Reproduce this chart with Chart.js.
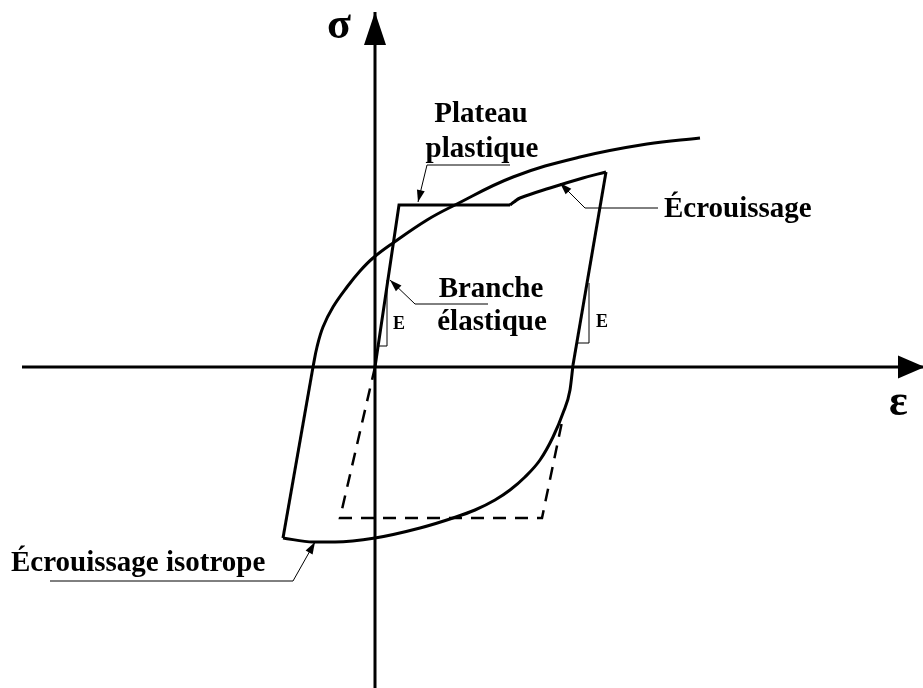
<!DOCTYPE html>
<html>
<head>
<meta charset="utf-8">
<script src="https://cdn.jsdelivr.net/npm/chart.js@4.4.1/dist/chart.umd.min.js"></script>
<style>
html,body{margin:0;padding:0;background:#fff;}
#c{display:block;}
</style>
</head>
<body>
<canvas id="c" width="923" height="688"></canvas>
<script>
// ---- Data (strain ε on x, stress σ on y; schematic units) ----
const axisX = [[-353, 0], [550, 0]];
const axisY = [[0, -321], [0, 355]];

// monotonic (isotropic) envelope: straight part + curved part
const isoLine  = [[-92, -171], [-62, 0]];
const isoCurve = [[-62, 0], [-58, 20], [-52, 40], [-42, 60], [-28, 80], [-15, 96], [-2, 109],
                  [18, 124], [52, 147], [78, 161], [138, 190], [205, 210], [272, 223], [325, 229]];

// cyclic path: elastic branch + plastic plateau
const elasticPlateau = [[0, 0], [24, 162], [135, 162]];
// strain hardening
const hardening = [[135, 162], [139, 165], [145, 169], [175, 179], [208, 189], [231, 195]];
// elastic unloading
const unloading = [[231, 195], [198, 2]];
// reverse curve (isotropic hardening in compression)
const reverseCurve = [[198, 2], [195, -23], [188, -46], [178, -70], [165, -93], [150, -110],
                      [135, -123], [120, -133], [100, -143], [78, -151], [45, -161], [0, -171],
                      [-40, -175], [-62, -175], [-92, -171]];

// dashed perfectly-plastic reference loop
const dashedLoop = [[0, 0], [-35, -151], [167, -151], [188, -50]];

// slope triangles (E)
const slopeLeft  = [[3, 21], [12, 21], [12, 87]];
const slopeRight = [[202, 24], [214, 24], [214, 84]];

// leader lines (end on the arrow tip)
const leaderPlateau  = [[135, 202], [52, 202], [43, 165]];
const leaderHarden   = [[283, 159], [210, 159], [185, 184]];
const leaderElastic  = [[113, 63], [40, 63], [15, 87]];
const leaderIso      = [[-325, -214], [-82, -214], [-60, -175]];

// text labels
const labels = [
  {text: 'Plateau',   x: 106, y: 245, align: 'center', size: 29},
  {text: 'plastique', x: 107, y: 210, align: 'center', size: 29},
  {text: 'Écrouissage', x: 289, y: 150, align: 'left', size: 29},
  {text: 'Branche',   x: 116, y: 70, align: 'center', size: 29},
  {text: 'élastique', x: 117, y: 37, align: 'center', size: 29},
  {text: 'Écrouissage isotrope', x: -364, y: -204, align: 'left', size: 29},
  {text: 'E', x: 18, y: 38, align: 'left', size: 18},
  {text: 'E', x: 221, y: 40, align: 'left', size: 18},
  {text: 'σ', x: -48, y: 329, align: 'left', size: 44},
  {text: 'ε', x: 514, y: -48, align: 'left', size: 44}
];

const pts = a => a.map(p => ({x: p[0], y: p[1]}));

function ds(arr, opts) {
  return Object.assign({
    data: pts(arr), showLine: true, borderColor: '#000', backgroundColor: '#000',
    borderWidth: 3, pointRadius: 0, pointHoverRadius: 0, tension: 0, fill: false,
    borderJoinStyle: 'miter', borderCapStyle: 'butt', clip: false
  }, opts || {});
}

const datasets = [
  ds(axisX, {borderWidth: 3, arrow: {len: 27, width: 23}}),
  ds(axisY, {borderWidth: 3, arrow: {len: 33, width: 22}}),
  ds(isoLine, {borderWidth: 3}),
  ds(isoCurve, {borderWidth: 3, tension: 0.4}),
  ds(elasticPlateau, {borderWidth: 3}),
  ds(hardening, {borderWidth: 3, tension: 0.4}),
  ds(unloading, {borderWidth: 3}),
  ds(reverseCurve, {borderWidth: 3, cubicInterpolationMode: 'monotone'}),
  ds(dashedLoop, {borderWidth: 2.5, borderDash: [13, 9]}),
  ds(slopeLeft, {borderWidth: 1}),
  ds(slopeRight, {borderWidth: 1}),
  ds(leaderPlateau, {borderWidth: 1, arrow: {len: 12, width: 8}}),
  ds(leaderHarden, {borderWidth: 1, arrow: {len: 12, width: 8}}),
  ds(leaderElastic, {borderWidth: 1, arrow: {len: 12, width: 8}}),
  ds(leaderIso, {borderWidth: 1, arrow: {len: 12, width: 8}})
];

const arrowPlugin = {
  id: 'arrowheads',
  afterDatasetsDraw(chart) {
    const ctx = chart.ctx;
    chart.data.datasets.forEach((d, i) => {
      if (!d.arrow) return;
      const meta = chart.getDatasetMeta(i);
      const n = meta.data.length;
      const a = meta.data[n - 2], b = meta.data[n - 1];
      const ang = Math.atan2(b.y - a.y, b.x - a.x);
      const L = d.arrow.len, W = d.arrow.width / 2;
      ctx.save();
      ctx.translate(b.x, b.y);
      ctx.rotate(ang);
      ctx.beginPath();
      ctx.moveTo(0, 0);
      ctx.lineTo(-L, W);
      ctx.lineTo(-L, -W);
      ctx.closePath();
      ctx.fillStyle = '#000';
      ctx.fill();
      ctx.restore();
    });
  }
};

const textPlugin = {
  id: 'labels',
  afterDraw(chart) {
    const ctx = chart.ctx, sx = chart.scales.x, sy = chart.scales.y;
    ctx.save();
    ctx.fillStyle = '#000';
    ctx.textBaseline = 'alphabetic';
    labels.forEach(l => {
      ctx.font = 'bold ' + l.size + 'px "Liberation Serif", "Times New Roman", serif';
      ctx.textAlign = l.align;
      ctx.fillText(l.text, sx.getPixelForValue(l.x), sy.getPixelForValue(l.y));
    });
    ctx.restore();
  }
};

new Chart(document.getElementById('c'), {
  type: 'scatter',
  data: {datasets},
  options: {
    responsive: false,
    devicePixelRatio: 1,
    animation: false,
    layout: {padding: 0},
    plugins: {legend: {display: false}, tooltip: {enabled: false}},
    events: [],
    scales: {
      x: {type: 'linear', min: -375, max: 548, display: false},
      y: {type: 'linear', min: -321, max: 367, display: false}
    }
  },
  plugins: [arrowPlugin, textPlugin]
});
</script>
</body>
</html>
